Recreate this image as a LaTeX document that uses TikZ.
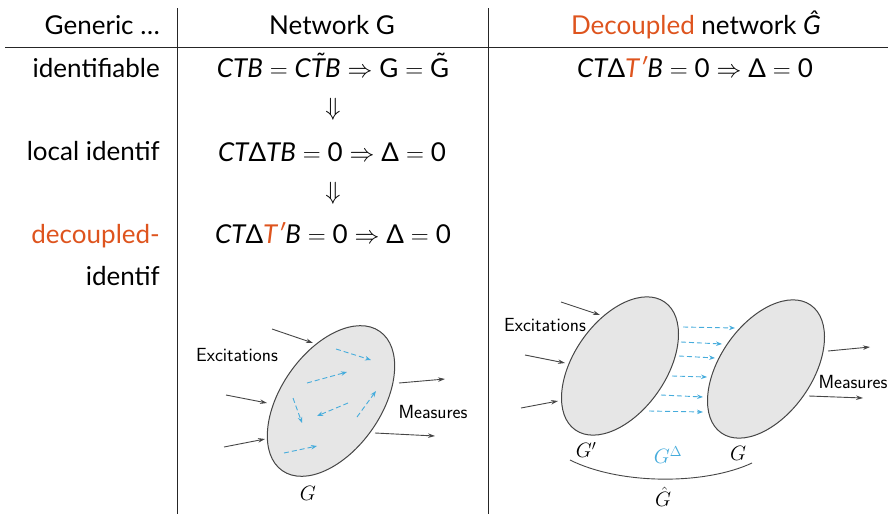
\documentclass[tikz,border=0pt]{standalone}
\usepackage{fontspec}
\setmainfont{Lato}
\usetikzlibrary{shapes.geometric,arrows.meta}
\definecolor{orng}{RGB}{222,84,30}
\definecolor{blu}{RGB}{70,172,220}
\definecolor{dgray}{RGB}{70,70,70}
\definecolor{fillg}{RGB}{230,230,230}
\tikzset{
  rule/.style={draw=black!85, line width=0.8pt},
  big/.style={font=\fontsize{26}{30}\selectfont, inner sep=0pt},
  lab/.style={big, anchor=base east},
  hdr/.style={big, anchor=base},
  frm/.style={big, anchor=base},
  dar/.style={font=\fontsize{30}{34}\selectfont, inner sep=0pt},
  blob/.style={draw=dgray, fill=fillg, line width=1pt, ellipse, inner sep=0pt},
  sig/.style={draw=dgray, line width=0.9pt, -{Stealth[length=7pt,width=4.5pt]}},
  flow/.style={draw=blu, line width=0.9pt, dash pattern=on 5pt off 3pt, -{Stealth[length=6pt,width=4.5pt]}},
  word/.style={font=\sffamily\fontsize{19}{22}\selectfont, inner sep=0pt},
  mlab/.style={font=\fontsize{20}{24}\selectfont, inner sep=0pt},
}
\newcommand{\itx}[1]{\mbox{\itshape #1}}
\newcommand{\Dl}{\mbox{Δ}}
\newcommand{\Tp}{\textcolor{orng}{\mbox{\itshape T′}}}
\begin{document}
\begin{tikzpicture}[x=1pt,y=-1pt]
\useasboundingbox (0,0) rectangle (888,514);
% rules
\coordinate (v1t) at (177,8); \coordinate (v1b) at (177,514);
\coordinate (v2t) at (488,8); \coordinate (v2b) at (488,514);
\coordinate (hl) at (5,47); \coordinate (hr) at (888,47);
\draw[rule] (v1t) -- (v1b);
\draw[rule] (v2t) -- (v2b);
\draw[rule] (hl) -- (hr);
% header
\node[lab] (h1) at (160,34) {Generic …};
\node[hdr] (h2) at (332,34) {Network G};
\node[hdr] (h3) at (696,34) {\textcolor{orng}{Decoupled} network \textit{\^G}};
% left labels
\node[lab] (l1) at (160,77) {identifiable};
\node[lab] (l2) at (160,160) {local identif};
\node[lab] (l3) at (160,243) {\textcolor{orng}{decoupled-}};
\node[lab] (l4) at (160,285) {identif};
% formulas
\node[frm] (f1) at (333,77) {$\itx{CTB} = \itx{C\~{T}B} \Rightarrow \mbox{G} = \mbox{\~G}$};
\node[dar] (d1) at (333,109) {$\Downarrow$};
\node[frm] (f2) at (332,161) {$\itx{CT}\Dl\itx{TB} = \mbox{0} \Rightarrow \Dl = \mbox{0}$};
\node[dar] (d2) at (333,193) {$\Downarrow$};
\node[frm] (f3) at (333,243) {$\itx{CT}\Dl\Tp\itx{B} = \mbox{0} \Rightarrow \Dl = \mbox{0}$};
\node[frm] (f4) at (695,77) {$\itx{CT}\Dl\Tp\itx{B} = \mbox{0} \Rightarrow \Dl = \mbox{0}$};

% ---------- left diagram ----------
\node[blob, rotate=55, minimum width=170pt, minimum height=100pt] (E) at (331,401) {};
\coordinate (a1s) at (272,329); \coordinate (a1e) at (313,343);
\coordinate (a2s) at (226,395); \coordinate (a2e) at (267,403);
\coordinate (a3s) at (224,447); \coordinate (a3e) at (265,439);
\coordinate (o1s) at (399,383); \coordinate (o1e) at (445,379);
\coordinate (o2s) at (375,433); \coordinate (o2e) at (435,436);
\draw[sig] (a1s) -- (a1e);
\draw[sig] (a2s) -- (a2e);
\draw[sig] (a3s) -- (a3e);
\draw[sig] (o1s) -- (o1e);
\draw[sig] (o2s) -- (o2e);
\coordinate (b1s) at (336,349); \coordinate (b1e) at (371,360);
\coordinate (b2s) at (307,383); \coordinate (b2e) at (347,372);
\coordinate (b3s) at (293,398); \coordinate (b3e) at (302,423);
\coordinate (b4s) at (348,403); \coordinate (b4e) at (317,416);
\coordinate (b5s) at (357,417); \coordinate (b5e) at (376,391);
\coordinate (b6s) at (284,453); \coordinate (b6e) at (317,446);
\draw[flow] (b1s) -- (b1e);
\draw[flow] (b2s) -- (b2e);
\draw[flow] (b3s) -- (b3e);
\draw[flow] (b4s) -- (b4e);
\draw[flow] (b5s) -- (b5e);
\draw[flow] (b6s) -- (b6e);
\node[word] (ex1) at (237,355) {Excitations};
\node[word] (me1) at (433,412) {Measures};
\node[mlab] (g1) at (308,493) {$G$};

% ---------- right diagram ----------
\node[blob, rotate=55, minimum width=156pt, minimum height=92pt] (Ep) at (620,366) {};
\node[blob, rotate=55, minimum width=156pt, minimum height=92pt] (Eg) at (766,369) {};
\coordinate (c1s) at (561,302); \coordinate (c1e) at (600,315);
\coordinate (c2s) at (525,355); \coordinate (c2e) at (565,363);
\coordinate (c3s) at (521,408); \coordinate (c3e) at (558,401);
\coordinate (p1s) at (828,351); \coordinate (p1e) at (870,347);
\coordinate (p2s) at (809,396); \coordinate (p2e) at (863,398);
\draw[sig] (c1s) -- (c1e);
\draw[sig] (c2s) -- (c2e);
\draw[sig] (c3s) -- (c3e);
\draw[sig] (p1s) -- (p1e);
\draw[sig] (p2s) -- (p2e);
\coordinate (r1s) at (683,327); \coordinate (r1e) at (735,328);
\coordinate (r2s) at (681,342); \coordinate (r2e) at (722,344);
\coordinate (r3s) at (679,356); \coordinate (r3e) at (715,358);
\coordinate (r4s) at (672,376); \coordinate (r4e) at (707,377);
\coordinate (r5s) at (661,395); \coordinate (r5e) at (703,397);
\coordinate (r6s) at (649,411); \coordinate (r6e) at (703,412);
\draw[flow] (r1s) -- (r1e);
\draw[flow] (r2s) -- (r2e);
\draw[flow] (r3s) -- (r3e);
\draw[flow] (r4s) -- (r4e);
\draw[flow] (r5s) -- (r5e);
\draw[flow] (r6s) -- (r6e);
\node[word] (ex2) at (545,325) {Excitations};
\node[word] (me2) at (853,382) {Measures};
\node[mlab] (gp) at (586,450) {$G'$};
\node[mlab, text=blu] (gd) at (668,455) {$G^{\Delta}$};
\node[mlab] (g2) at (738,453) {$G$};
\node[mlab] (gh) at (663,497) {$\hat{G}$};
\coordinate (arcS) at (570,460); \coordinate (arcE) at (752,463);
\draw[dgray, line width=0.9pt] (arcS) .. controls (620,485) and (705,485) .. (arcE);
\end{tikzpicture}
\end{document}
